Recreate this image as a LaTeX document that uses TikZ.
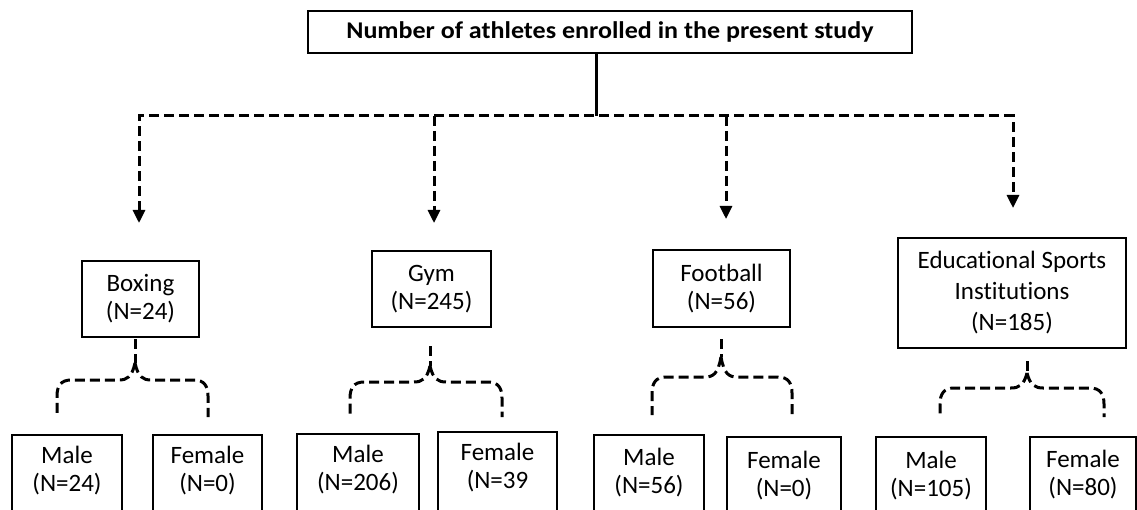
\documentclass[tikz,border=0pt]{standalone}
\usepackage{fontspec}
\setmainfont{Carlito}[Ligatures={NoCommon,NoRare,NoContextual}]
\usetikzlibrary{arrows.meta}
\newcommand\mybrace[6]{% cx, ytip, yh, xl, xr, yend
  \draw[dline] (#1,#2) .. controls (#1-3,#3-3) and (#1-8,#3) .. (#1-16,#3) -- (#4+14,#3) .. controls (#4+4,#3) and (#4,#3+6) .. (#4,#3+16) -- (#4,#6);
  \draw[dline] (#1,#2) .. controls (#1+3,#3-3) and (#1+8,#3) .. (#1+16,#3) -- (#5-14,#3) .. controls (#5-4,#3) and (#5,#3+6) .. (#5,#3+16) -- (#5,#6);
}
\begin{document}
\begin{tikzpicture}[x=1pt,y=-1pt,
  box/.style={draw, line width=2.4pt, inner sep=0pt, align=center, font=\fontsize{25}{28}\selectfont},
  txt/.style={inner sep=0pt, align=center, font=\fontsize{25}{28}\selectfont},
  bline/.style={line width=2.4pt},
  dline/.style={line width=3pt, dash pattern=on 10pt off 5pt},
  sline/.style={line width=3pt},
  tipstyle/.style={-{Triangle[length=13pt,width=12pt]}}
]
\useasboundingbox (0,0) rectangle (1137,510);
\clip (0,0) rectangle (1137,510);

% title
\node[box, minimum width=604pt, minimum height=42pt, font=\bfseries\fontsize{24}{28}\selectfont] (title) at (610,32) {\scalebox{1.085}[1]{Number of athletes enrolled in the present study}};

% category boxes
\node[box, minimum width=117pt, minimum height=76pt] (boxing) at (140.5,299) {Boxing\\(N=24)};
\node[box, minimum width=119pt, minimum height=76pt] (gym) at (431.5,289) {Gym\\(N=245)};
\node[box, minimum width=137pt, minimum height=77pt] (football) at (721.5,288.5) {Football\\(N=56)};
\node[box, minimum width=228pt, minimum height=110pt, font=\fontsize{25}{31}\selectfont] (edu) at (1012,293) {Educat\kern0pt ional Sports\\Inst\kern0pt it\kern0pt ut\kern0pt ions\\(N=185)};

% gender boxes (bottom cut off by the page edge)
\node[txt, minimum width=110pt, minimum height=71pt] (m1) at (67,470.5) {Male\\(N=24)};
\node[txt, minimum width=109pt, minimum height=71pt] (f1) at (207.5,470.5) {Female\\(N=0)};
\node[txt, minimum width=122pt, minimum height=71pt] (m2) at (358,469.5) {Male\\(N=206)};
\node[txt, minimum width=119pt, minimum height=72pt] (f2) at (497.5,468) {Female\\(N=39};
\node[txt, minimum width=110pt, minimum height=76pt] (m3) at (649,473) {Male\\(N=56)};
\node[txt, minimum width=114pt, minimum height=78pt] (f3) at (784,476) {Female\\(N=0)};
\node[txt, minimum width=110pt, minimum height=78pt] (m4) at (931,476) {Male\\(N=105)};
\node[txt, minimum width=106pt, minimum height=76pt] (f4) at (1083,475) {Female\\(N=80)};
\foreach \n in {m1,f1,m2,f2,m3,f3,m4,f4}{
  \draw[bline] ([yshift=-60pt]\n.south west) -- (\n.north west) -- (\n.north east) -- ([yshift=-60pt]\n.south east);
}

% connectors from title
\coordinate (hub) at (596,116);
\coordinate (c1) at (139,116);
\coordinate (c2) at (434,116);
\coordinate (c3) at (726,116);
\coordinate (c4) at (1013,116);
\coordinate (a1) at (139,223);
\coordinate (a2) at (434,223);
\coordinate (a3) at (726,219);
\coordinate (a4) at (1013,208);
\draw[sline] (title.south -| hub) -- (hub);
\draw[dline, {Triangle[length=13pt,width=12pt]}-{Triangle[length=13pt,width=12pt]}] (a1) -- (c1) -- (c4) -- (a4);
\draw[dline, tipstyle] (c2) -- (a2);
\draw[dline, tipstyle] (c3) -- (a3);

% stubs and braces
\coordinate (t1) at (135,363);
\coordinate (t2) at (430,366);
\coordinate (t3) at (721,357);
\coordinate (t4) at (1027,373);
\draw[dline] ([yshift=-1pt]boxing.south -| t1) -- (t1);
\draw[dline] ([yshift=-18pt]gym.south -| t2) -- (t2);
\draw[dline] ([yshift=-11pt]football.south -| t3) -- (t3);
\draw[dline] ([yshift=-12pt]edu.south -| t4) -- (t4);
\mybrace{135}{363}{380}{57}{208}{417}
\mybrace{430}{366}{382}{350}{502}{417}
\mybrace{721}{357}{377}{652}{792}{415}
\mybrace{1027}{373}{388}{940}{1104}{417}
\end{tikzpicture}
\end{document}
